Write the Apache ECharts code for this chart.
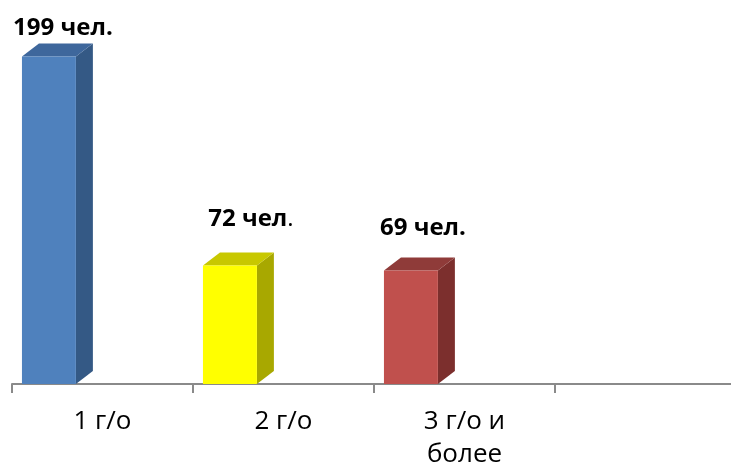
<!DOCTYPE html>
<html>
<head>
<meta charset="utf-8">
<script src="https://cdn.jsdelivr.net/npm/echarts@6/dist/echarts.min.js"></script>
<style>html,body{margin:0;padding:0;background:#fff}#c{width:731px;height:468px}</style>
</head>
<body>
<div id="c"></div>
<script>
var categories = ['1 г/о', '2 г/о', '3 г/о и\nболее', ''];
var values = [199, 72, 69];
var unit = ' чел';

var frontColors = ['#4F81BD', '#FFFF00', '#C0504D'];
var topColors = ['#3E679C', '#C8C800', '#8F3B39'];
var sideColors = ['#345985', '#A8A800', '#7C2F2D'];
var labelOffsets = [[14, -28], [21, -46], [12, -42]];
var periodNormal = [false, true, false];

var chart = echarts.init(document.getElementById('c'));
chart.setOption({
  animation: false,
  grid: { left: 12, width: 724, top: 22, bottom: 84, containLabel: false, outerBoundsMode: 'none' },
  xAxis: {
    type: 'category',
    data: categories,
    boundaryGap: true,
    axisLine: { show: true, lineStyle: { color: '#8A8A8A', width: 2 } },
    axisTick: { show: true, inside: false, length: 9, interval: 0, alignWithLabel: false,
      lineStyle: { color: '#8A8A8A', width: 2 } },
    axisLabel: {
      color: '#000', fontFamily: 'Open Sans', fontSize: 26, margin: 21,
      lineHeight: 33, interval: 0
    }
  },
  yAxis: { type: 'value', min: 0, max: 220, show: false },
  series: [{
    type: 'custom',
    clip: false,
    data: values.map(function (v, i) { return [i, v]; }),
    renderItem: function (params, api) {
      var i = api.value(0);
      var top = api.coord([i, api.value(1)]);
      var base = api.coord([i, 0]);
      var band = api.size([1, 0])[0];
      var x0 = top[0] - band / 2 + band * 0.055;
      var x1 = x0 + band * 0.298;
      var yt = top[1], yb = base[1];
      var dx = 17, dy = 13;
      var idx = params.dataIndex;
      var txt = periodNormal[idx]
        ? '{b|' + values[idx] + unit + '}{n|.}'
        : '{b|' + values[idx] + unit + '.}';
      return {
        type: 'group',
        children: [
          { type: 'polygon', shape: { points: [[x1, yb], [x1 + dx, yb - dy], [x1 + dx, yt - dy], [x1, yt]] },
            style: { fill: sideColors[idx] } },
          { type: 'polygon', shape: { points: [[x0, yt], [x0 + dx, yt - dy], [x1 + dx, yt - dy], [x1, yt]] },
            style: { fill: topColors[idx] } },
          { type: 'rect', shape: { x: x0, y: yt, width: x1 - x0, height: yb - yt },
            style: { fill: frontColors[idx] } },
          { type: 'text',
            x: (x0 + x1) / 2 + labelOffsets[idx][0],
            y: yt + labelOffsets[idx][1],
            style: {
              text: txt, align: 'center', verticalAlign: 'middle',
              rich: {
                b: { fontFamily: 'Open Sans', fontWeight: 'bold', fontSize: 24, fill: '#000' },
                n: { fontFamily: 'Open Sans', fontWeight: 'normal', fontSize: 24, fill: '#000' }
              }
            } }
        ]
      };
    }
  }]
});
</script>
</body>
</html>
